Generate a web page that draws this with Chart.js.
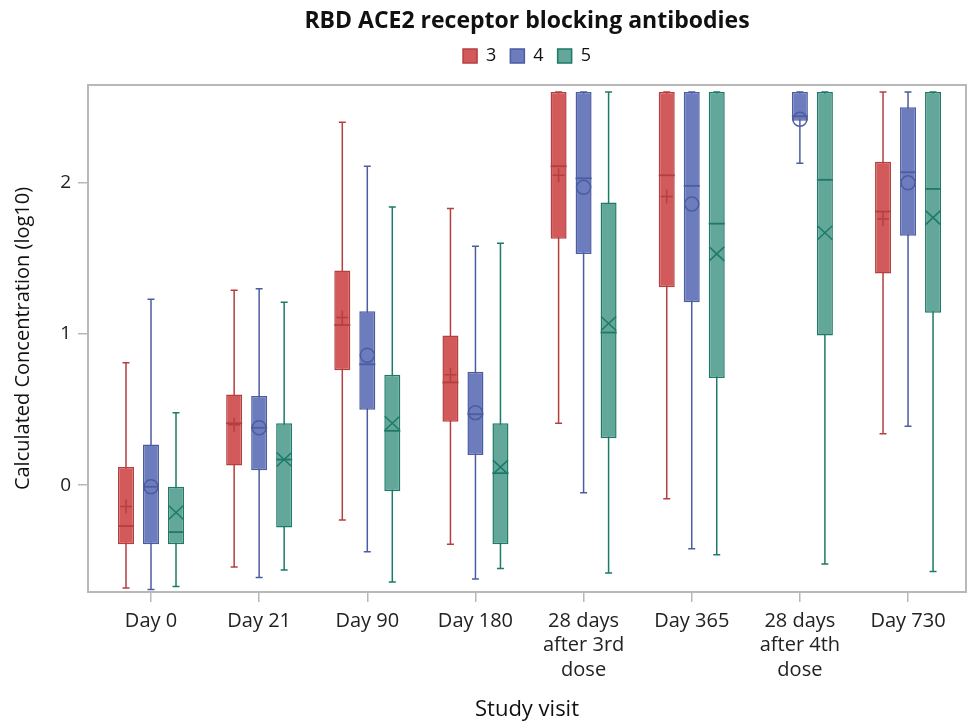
<!DOCTYPE html>
<html>
<head>
<meta charset="utf-8">
<title>RBD ACE2 receptor blocking antibodies</title>
<script src="https://cdn.jsdelivr.net/npm/chart.js@4.4.1/dist/chart.umd.min.js"></script>
<style>
  body { margin: 0; background: #fff; }
  #wrap { width: 976px; height: 727px; }
</style>
</head>
<body>
<div id="wrap"><canvas id="rbd_chart"></canvas></div>
<script>
// Study visits along the x-axis (multi-line labels)
var visits = [["Day 0"], ["Day 21"], ["Day 90"], ["Day 180"],
              ["28 days", "after 3rd", "dose"], ["Day 365"],
              ["28 days", "after 4th", "dose"], ["Day 730"]];
var yTicks = [0, 1, 2];

// Group 3
var min3  = [-0.68, -0.54, -0.23, -0.39, 0.41, -0.09, null, 0.34];
var q1_3  = [-0.39,  0.13,  0.76,  0.42, 1.63,  1.31, null, 1.40];
var med3  = [-0.27,  0.41,  1.06,  0.68, 2.11,  2.05, null, 1.81];
var q3_3  = [ 0.12,  0.60,  1.42,  0.99, 2.60,  2.60, null, 2.14];
var max3  = [ 0.81,  1.29,  2.40,  1.83, 2.60,  2.60, null, 2.60];
var mean3 = [-0.14,  0.40,  1.11,  0.73, 2.05,  1.91, null, 1.76];

// Group 4
var min4  = [-0.69, -0.61, -0.44, -0.62, -0.05, -0.42, 2.13, 0.39];
var q1_4  = [-0.39,  0.10,  0.50,  0.20,  1.53,  1.21, 2.41, 1.65];
var med4  = [-0.01,  0.38,  0.80,  0.47,  2.03,  1.98, 2.44, 2.07];
var q3_4  = [ 0.27,  0.59,  1.15,  0.75,  2.60,  2.60, 2.60, 2.50];
var max4  = [ 1.23,  1.30,  2.11,  1.58,  2.60,  2.60, 2.60, 2.60];
var mean4 = [-0.01,  0.38,  0.86,  0.48,  1.97,  1.86, 2.42, 2.00];

// Group 5
var min5  = [-0.67, -0.56, -0.64, -0.55, -0.58, -0.46, -0.52, -0.57];
var q1_5  = [-0.39, -0.28, -0.04, -0.39,  0.31,  0.71,  0.99,  1.14];
var med5  = [-0.31,  0.17,  0.36,  0.08,  1.01,  1.73,  2.02,  1.96];
var q3_5  = [-0.01,  0.41,  0.73,  0.41,  1.87,  2.60,  2.60,  2.60];
var max5  = [ 0.48,  1.21,  1.84,  1.60,  2.60,  2.60,  2.60,  2.60];
var mean5 = [-0.18,  0.17,  0.41,  0.12,  1.07,  1.53,  1.67,  1.77];

function boxData(q1, q3) {
    return visits.map(function (v, i) {
        return q1[i] == null ? {x: i, y: null} : {x: i, y: [q1[i], q3[i]]};
    });
}

function makeBox(label, q1, q3, stats, fill, line, marker) {
    return {
        label: label,
        data: boxData(q1, q3),
        backgroundColor: fill,
        borderColor: line,
        borderWidth: 1.5,
        borderSkipped: false,
        categoryPercentage: 0.6935,
        barPercentage: 0.64,
        stats: stats,
        marker: marker
    };
}

// whiskers behind the boxes, medians and means on top
var boxParts = {
    id: 'boxParts',
    beforeDatasetsDraw: function (chart) {
        var ctx = chart.ctx, y = chart.scales.y;
        chart.data.datasets.forEach(function (ds, d) {
            chart.getDatasetMeta(d).data.forEach(function (el, i) {
                if (ds.stats.min[i] == null) return;
                var x = el.x, cap = 3.5;
                var yMin = y.getPixelForValue(ds.stats.min[i]);
                var yMax = y.getPixelForValue(ds.stats.max[i]);
                ctx.save();
                ctx.strokeStyle = ds.borderColor;
                ctx.lineWidth = 1.5;
                ctx.beginPath();
                ctx.moveTo(x, yMin); ctx.lineTo(x, yMax);
                ctx.moveTo(x - cap, yMin); ctx.lineTo(x + cap, yMin);
                ctx.moveTo(x - cap, yMax); ctx.lineTo(x + cap, yMax);
                ctx.stroke();
                ctx.restore();
            });
        });
    },
    afterDatasetsDraw: function (chart) {
        var ctx = chart.ctx, y = chart.scales.y;
        chart.data.datasets.forEach(function (ds, d) {
            chart.getDatasetMeta(d).data.forEach(function (el, i) {
                if (ds.stats.med[i] == null) return;
                var x = el.x, w = el.width / 2, r = 7;
                var yMed = y.getPixelForValue(ds.stats.med[i]);
                var yMean = y.getPixelForValue(ds.stats.mean[i]);
                ctx.save();
                ctx.strokeStyle = ds.borderColor;
                ctx.lineWidth = 1.8;
                ctx.beginPath();
                ctx.moveTo(x - w, yMed); ctx.lineTo(x + w, yMed);
                ctx.stroke();
                ctx.lineWidth = 1.5;
                ctx.beginPath();
                if (ds.marker === 'plus') {
                    ctx.moveTo(x - 6, yMean); ctx.lineTo(x + 6, yMean);
                    ctx.moveTo(x, yMean - r); ctx.lineTo(x, yMean + r);
                } else if (ds.marker === 'circle') {
                    ctx.arc(x, yMean, r, 0, Math.PI * 2);
                } else {
                    ctx.moveTo(x - 7.5, yMean - 7); ctx.lineTo(x + 7.5, yMean + 7);
                    ctx.moveTo(x - 7.5, yMean + 7); ctx.lineTo(x + 7.5, yMean - 7);
                }
                ctx.stroke();
                ctx.restore();
            });
        });
    },
    afterDraw: function (chart) {
        var a = chart.chartArea, ctx = chart.ctx;
        ctx.save();
        ctx.strokeStyle = '#b8b8b8';
        ctx.lineWidth = 2;
        ctx.strokeRect(a.left, a.top, a.right - a.left, a.bottom - a.top);
        ctx.restore();
    }
};

Chart.defaults.font.family = "'Open Sans', sans-serif";
Chart.defaults.color = '#222';

var ctx = document.getElementById("rbd_chart");
var myChart = new Chart(ctx, {
    type: 'bar',
    data: {
        datasets: [
            makeBox("3", q1_3, q3_3, {min: min3, med: med3, max: max3, mean: mean3},
                    "#d25a5a", "#b53f3f", 'plus'),
            makeBox("4", q1_4, q3_4, {min: min4, med: med4, max: max4, mean: mean4},
                    "#6c7cbc", "#4c5ca3", 'circle'),
            makeBox("5", q1_5, q3_5, {min: min5, med: med5, max: max5, mean: mean5},
                    "#62a79a", "#1d7a67", 'cross')
        ]
    },
    options: {
        responsive: true,
        maintainAspectRatio: false,
        animation: false,
        layout: { padding: { top: 0, right: 10, bottom: 0, left: 0 } },
        plugins: {
            title: {
                display: true,
                fullSize: false,
                text: "RBD ACE2 receptor blocking antibodies",
                color: '#111',
                font: { size: 23, weight: 'bold', lineHeight: 1.0 },
                padding: { top: 10, bottom: 0 }
            },
            // empty spacer between the legend and the plot
            subtitle: {
                display: true,
                fullSize: false,
                text: '',
                weight: 900,
                font: { size: 1, lineHeight: 1 },
                padding: { top: 0, bottom: 9 }
            },
            legend: {
                fullSize: false,
                labels: {
                    boxWidth: 14,
                    boxHeight: 14,
                    padding: 14,
                    font: { size: 18 },
                    color: '#111'
                }
            },
            tooltip: { enabled: false }
        },
        scales: {
            x: {
                type: 'linear',
                offset: false,
                min: -0.5826,
                max: 7.536,
                afterBuildTicks: function (s) {
                    s.ticks = visits.map(function (v, i) { return {value: i}; });
                },
                afterFit: function (s) { s.height = 135; },
                grid: { offset: false, drawOnChartArea: false, color: '#b8b8b8', tickLength: 10, lineWidth: 1.5 },
                border: { display: false },
                ticks: {
                    padding: 7,
                    maxRotation: 0,
                    autoSkip: false,
                    color: '#222',
                    font: { size: 20, lineHeight: 1.22 },
                    callback: function (v) { return visits[v]; }
                },
                title: {
                    display: true,
                    text: "Study visit",
                    color: '#111',
                    font: { size: 22 },
                    padding: { top: 0, bottom: 4 }
                }
            },
            y: {
                min: -0.706,
                max: 2.647,
                afterBuildTicks: function (s) {
                    s.ticks = yTicks.map(function (v) { return {value: v}; });
                },
                afterFit: function (s) { s.width = 88; },
                grid: { drawOnChartArea: false, color: '#b8b8b8', tickLength: 10, lineWidth: 1.5 },
                border: { display: false },
                ticks: { padding: 7, color: '#222', font: { size: 19 } },
                title: {
                    display: true,
                    text: "Calculated Concentration (log10)",
                    color: '#111',
                    font: { size: 20 },
                    padding: { top: 11, bottom: 0 }
                }
            }
        }
    },
    plugins: [boxParts]
});
</script>
</body>
</html>
